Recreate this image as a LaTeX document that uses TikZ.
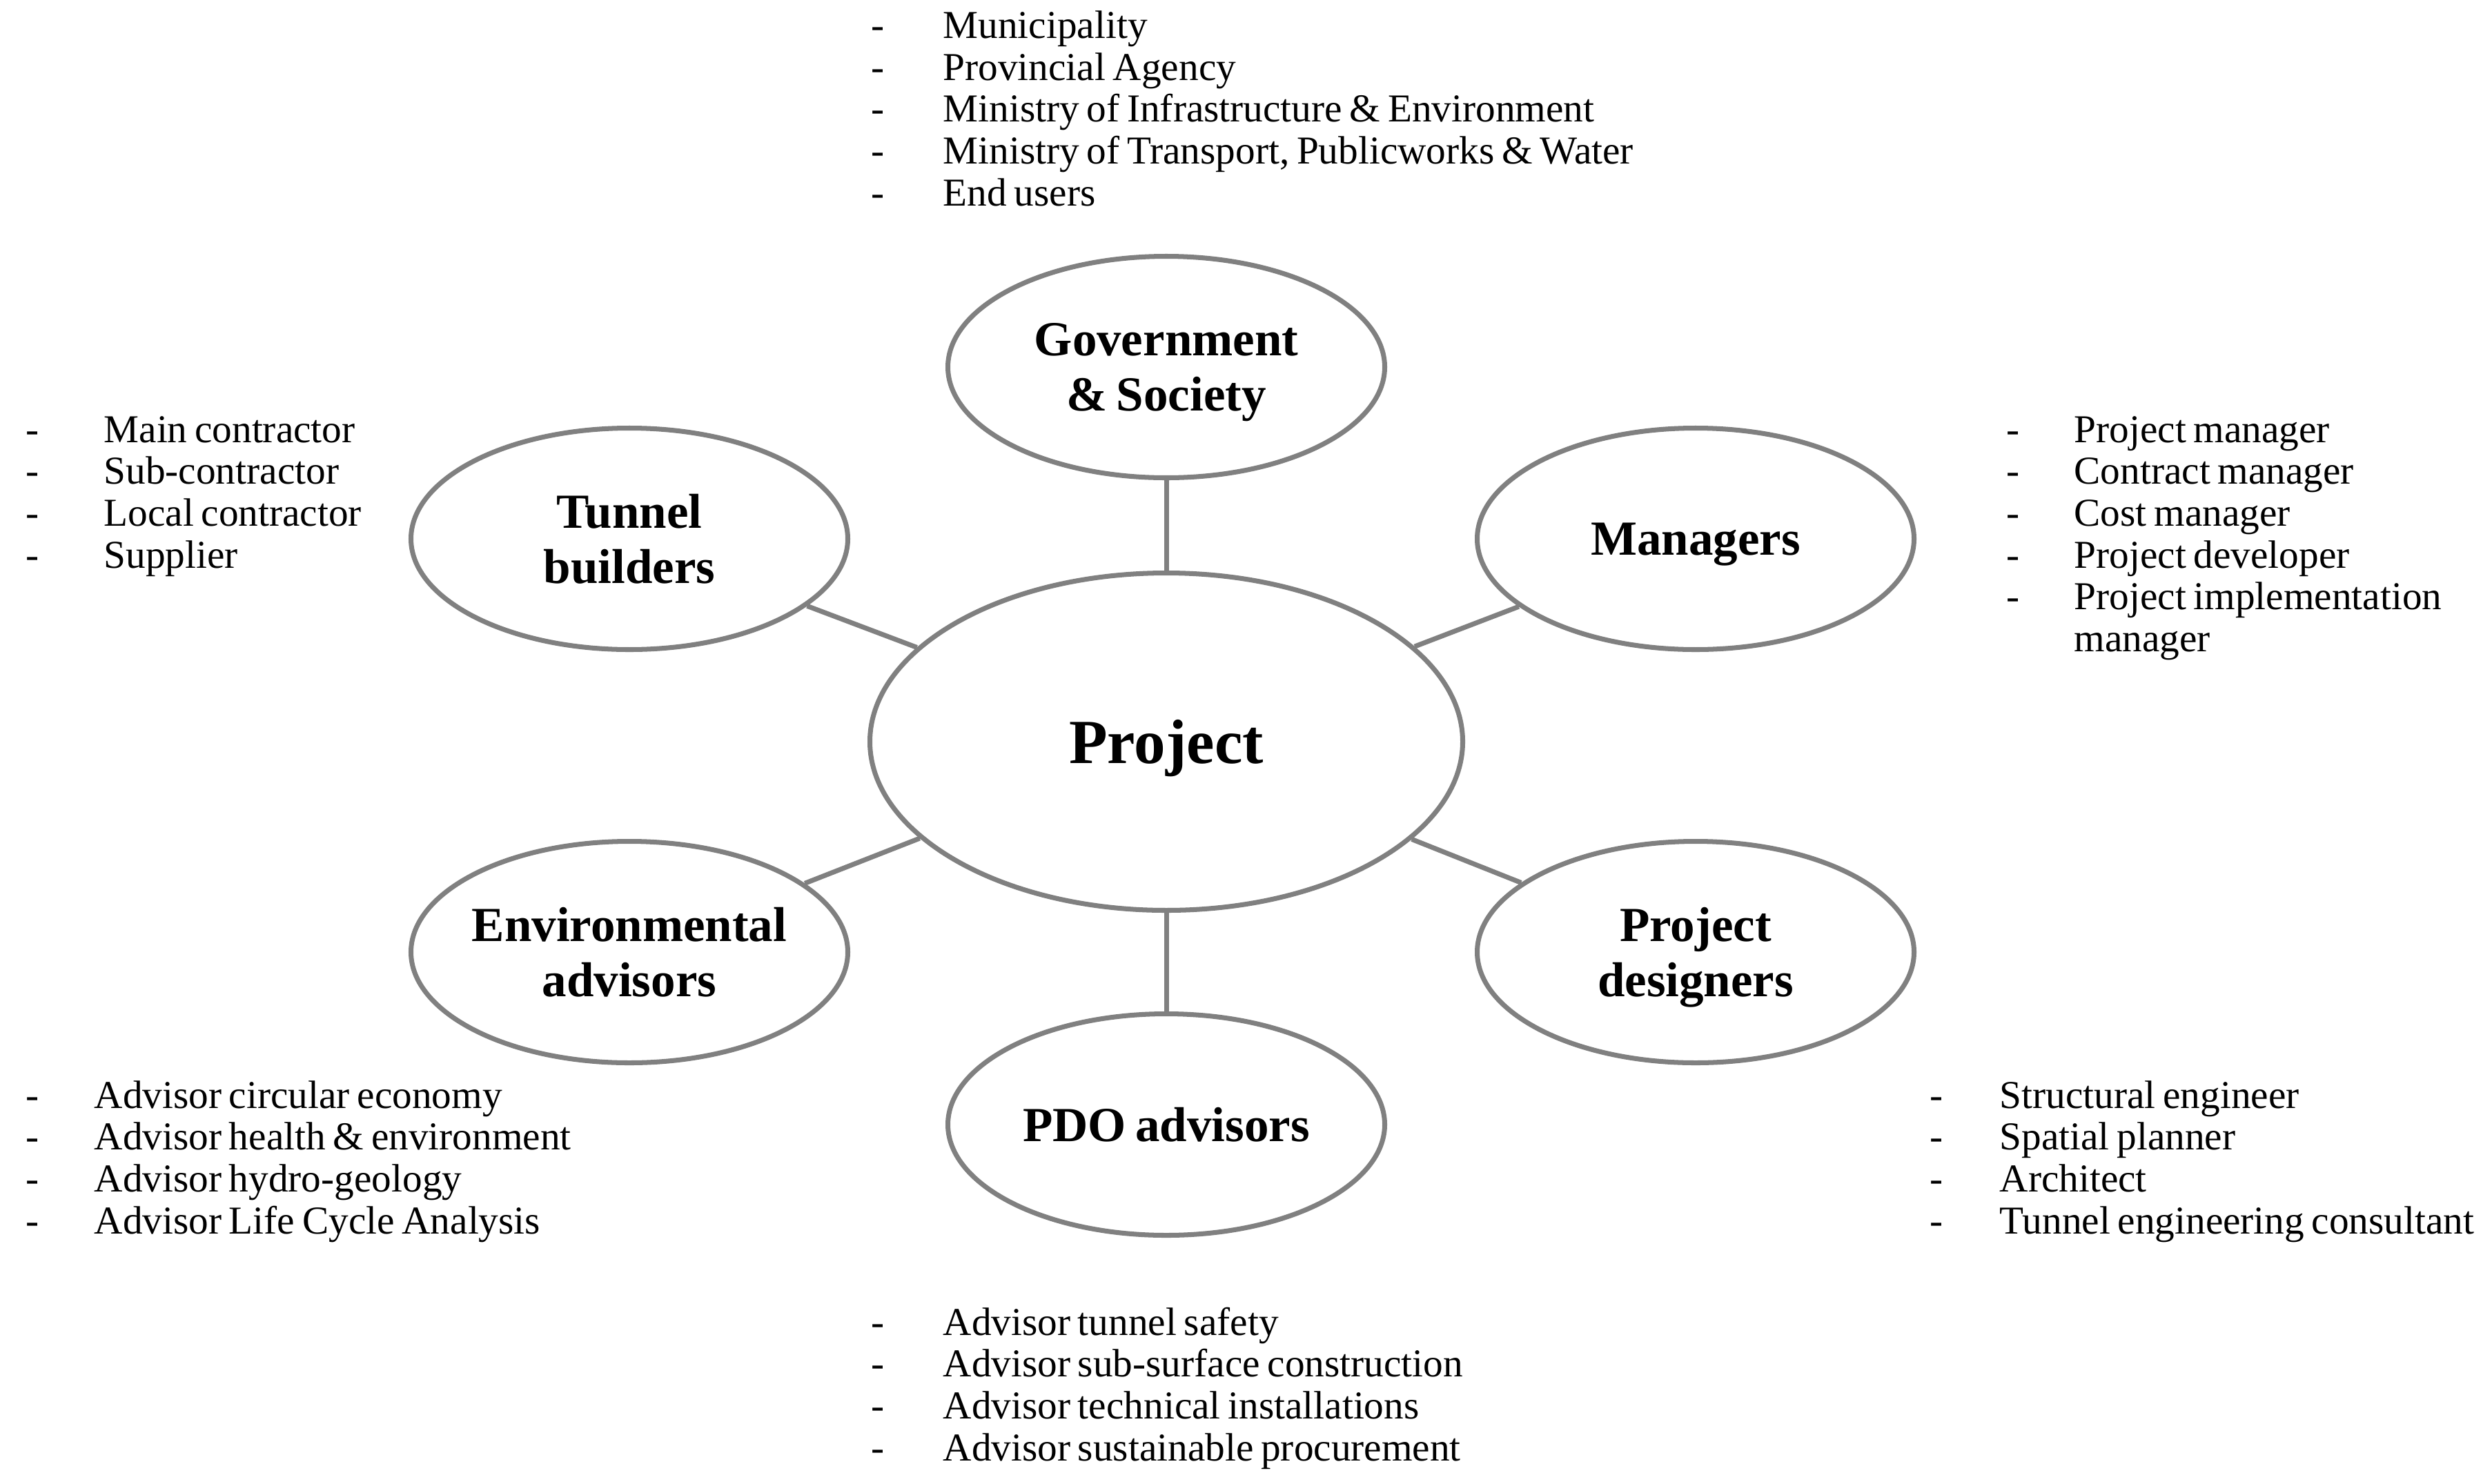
\documentclass[tikz,border=0pt]{standalone}
\usepackage{fontspec}
\setmainfont{Liberation Serif}[WordSpace=0.75]
\usetikzlibrary{shapes.geometric}
\definecolor{linegray}{HTML}{808080}
\newcommand{\dashlist}[2]{\begin{tabular}{@{}p{#1}@{}l@{}}#2\end{tabular}}
\tikzset{
  bubble/.style={ellipse, draw=linegray, line width=2pt, fill=white,
    minimum width=6.33cm, minimum height=3.21cm, inner sep=0pt},
  head/.style={font=\fontsize{20.2}{22.9}\selectfont\bfseries, align=center,
    inner sep=0pt, text depth=0pt},
  members/.style={font=\fontsize{16.3}{17.25}\selectfont, anchor=north west, inner sep=0pt},
  link/.style={draw=linegray, line width=2pt}
}
\begin{document}
\begin{tikzpicture}
  \useasboundingbox (0,0) rectangle (36.11,-21.5);

  % the project and the six groups round it
  \node[bubble, minimum width=8.59cm, minimum height=4.89cm] (proj) at (16.90,-10.75) {};
  \node[bubble] (gov) at (16.90,-5.32) {};
  \node[bubble] (tb)  at (9.12,-7.81) {};
  \node[bubble] (mgr) at (24.57,-7.81) {};
  \node[bubble] (env) at (9.12,-13.80) {};
  \node[bubble] (des) at (24.57,-13.80) {};
  \node[bubble] (pdo) at (16.90,-16.30) {};

  \foreach \g in {gov,tb,mgr,env,des,pdo}{\draw[link] (\g) -- (proj);}

  \node[head, font=\fontsize{25.9}{30}\selectfont\bfseries] (projtxt) at (proj) {Project};
  \node[head] (govtxt) at (gov) {Government\\ \& Society};
  \node[head] (tbtxt)  at (tb)  {Tunnel\\ builders};
  \node[head] (mgrtxt) at (mgr) {Managers};
  \node[head] (envtxt) at (env) {Environmental\\ advisors};
  \node[head] (destxt) at (des) {Project\\ designers};
  \node[head] (pdotxt) at (pdo) {PDO advisors};

  % members of each group
  \node[members] (govlist) at (12.62,-0.126) {\dashlist{1.04cm}{%
    - & Municipality\\
    - & Provincial Agency\\
    - & Ministry of Infrastructure \& Environment\\
    - & Ministry of Transport, Publicworks \& Water\\
    - & End users}};
  \node[members] (tblist) at (0.37,-5.98) {\dashlist{1.13cm}{%
    - & Main contractor\\
    - & Sub-contractor\\
    - & Local contractor\\
    - & Supplier}};
  \node[members] (mgrlist) at (29.07,-5.98) {\dashlist{0.98cm}{%
    - & Project manager\\
    - & Contract manager\\
    - & Cost manager\\
    - & Project developer\\
    - & Project implementation\\
      & manager}};
  \node[members] (envlist) at (0.37,-15.63) {\dashlist{0.99cm}{%
    - & Advisor circular economy\\
    - & Advisor health \& environment\\
    - & Advisor hydro-geology\\
    - & Advisor Life Cycle Analysis}};
  \node[members] (deslist) at (27.96,-15.63) {\dashlist{1.01cm}{%
    - & Structural engineer\\
    - & Spatial planner\\
    - & Architect\\
    - & Tunnel engineering consultant}};
  \node[members] (pdolist) at (12.62,-18.92) {\dashlist{1.04cm}{%
    - & Advisor tunnel safety\\
    - & Advisor sub-surface construction\\
    - & Advisor technical installations\\
    - & Advisor sustainable procurement}};
\end{tikzpicture}
\end{document}
